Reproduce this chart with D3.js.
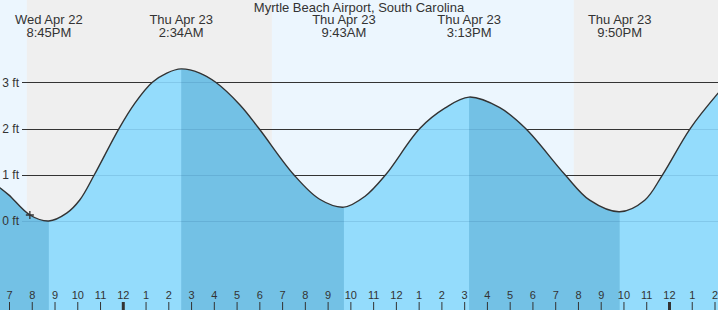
<!DOCTYPE html>
<html>
<head>
<meta charset="utf-8">
<script src="https://cdn.jsdelivr.net/npm/d3@7"></script>
<style>
  html, body { margin: 0; padding: 0; background: #fff; }
  svg { display: block; font-family: "Liberation Sans", Arial, sans-serif; }
</style>
</head>
<body>
<svg id="chart" width="718" height="310"></svg>
<script>
// ---- data ----
const title = "Myrtle Beach Airport, South Carolina";

const tideTimes = ["2026-04-22T18:36","2026-04-22T19:00","2026-04-22T19:55","2026-04-22T20:45","2026-04-22T21:32","2026-04-22T22:07","2026-04-22T22:45","2026-04-22T23:50","2026-04-23T00:32","2026-04-23T01:18","2026-04-23T01:56","2026-04-23T02:34","2026-04-23T03:23","2026-04-23T04:05","2026-04-23T05:09","2026-04-23T05:59","2026-04-23T07:31","2026-04-23T08:39","2026-04-23T09:43","2026-04-23T10:38","2026-04-23T11:33","2026-04-23T13:03","2026-04-23T14:09","2026-04-23T15:13","2026-04-23T16:34","2026-04-23T17:42","2026-04-23T19:26","2026-04-23T20:31","2026-04-23T21:50","2026-04-23T22:56","2026-04-23T23:43","2026-04-24T00:56","2026-04-24T02:10"];
const tideHeights = [0.72,0.56,0.13,0.0,0.17,0.46,1.0,2.0,2.55,3.0,3.2,3.29,3.2,3.0,2.51,2.0,1.0,0.47,0.30,0.53,1.0,2.0,2.44,2.68,2.45,2.0,1.0,0.45,0.20,0.45,1.0,2.0,2.77];

const eventTimes = ["2026-04-22T20:45","2026-04-23T02:34","2026-04-23T09:43","2026-04-23T15:13","2026-04-23T21:50"];
const eventDayLabels = ["Wed Apr 22","Thu Apr 23","Thu Apr 23","Thu Apr 23","Thu Apr 23"];
const eventTimeLabels = ["8:45PM","2:34AM","9:43AM","3:13PM","9:50PM"];

const fallStarts = ["2026-04-22T14:20","2026-04-23T02:34","2026-04-23T15:13"];
const fallEnds   = ["2026-04-22T20:45","2026-04-23T09:43","2026-04-23T21:50"];

const nightStarts = ["2026-04-22T19:47","2026-04-23T19:49"];
const nightEnds   = ["2026-04-23T06:33","2026-04-24T06:33"];

const nowTime = "2026-04-22T19:55";
const nowHeight = 0.13;

const feetTicks = [0,1,2,3];
const timeStart = "2026-04-22T19:00";
const timeEnd = "2026-04-24T02:00";

// ---- drawing ----
const W = 718, H = 310;
const parse = d3.timeParse("%Y-%m-%dT%H:%M");
const svg = d3.select("#chart");

const x = d3.scaleTime().domain([parse(timeStart), parse(timeEnd)]).range([9, 714.5]);
const y = d3.scaleLinear().domain([0, 3]).range([221, 82.3]);

const tide = tideTimes.map((t, i) => ({ t: parse(t), h: tideHeights[i] }));
const curve = d3.curveCatmullRom.alpha(0.5);

// background: day + night
svg.append("rect").attr("x", 0).attr("y", 0).attr("width", W).attr("height", H).attr("fill", "#ecf6fe");
svg.append("g").selectAll("rect").data(nightStarts).join("rect")
  .attr("x", (d) => x(parse(d)))
  .attr("y", 0)
  .attr("width", (d, i) => x(parse(nightEnds[i])) - x(parse(d)))
  .attr("height", H)
  .attr("fill", "#efefef");

// grid lines (under water)
svg.append("g").selectAll("line").data(feetTicks).join("line")
  .attr("x1", 22).attr("x2", W)
  .attr("y1", (d) => Math.round(y(d)) + 0.5).attr("y2", (d) => Math.round(y(d)) + 0.5)
  .attr("stroke", "#333").attr("stroke-width", 1);

// water
const area = d3.area().x((d) => x(d.t)).y0(H).y1((d) => y(d.h)).curve(curve);
const line = d3.line().x((d) => x(d.t)).y((d) => y(d.h)).curve(curve);

svg.append("clipPath").attr("id", "waterClip").append("path").attr("d", area(tide));
svg.append("path").attr("d", area(tide)).attr("fill", "#94dcfc");

const water = svg.append("g").attr("clip-path", "url(#waterClip)");
water.selectAll("rect").data(fallStarts).join("rect")
  .attr("x", (d) => x(parse(d)))
  .attr("y", 0)
  .attr("width", (d, i) => x(parse(fallEnds[i])) - x(parse(d)))
  .attr("height", H)
  .attr("fill", "#73c1e5");

// faint grid lines across the water
water.selectAll("line").data(feetTicks).join("line")
  .attr("x1", 22).attr("x2", W)
  .attr("y1", (d) => Math.round(y(d)) + 0.5).attr("y2", (d) => Math.round(y(d)) + 0.5)
  .attr("stroke", "rgba(0,60,110,0.12)").attr("stroke-width", 1);

// tide curve
svg.append("path").attr("d", line(tide))
  .attr("fill", "none").attr("stroke", "#333").attr("stroke-width", 1.4);

// y labels
svg.append("g").selectAll("text").data(feetTicks).join("text")
  .attr("x", 19).attr("y", (d) => y(d))
  .attr("dy", "0.35em")
  .attr("text-anchor", "end")
  .attr("font-size", 12)
  .attr("fill", "#333")
  .text((d) => d + " ft");

// title
svg.append("text").attr("x", 359).attr("y", 11.5)
  .attr("text-anchor", "middle").attr("font-size", 13).attr("fill", "#333")
  .text(title);

// event labels
const ev = svg.append("g").selectAll("g").data(eventTimes).join("g")
  .attr("transform", (d) => `translate(${x(parse(d))},0)`);
ev.append("text").attr("y", 24).attr("text-anchor", "middle").attr("font-size", 13).attr("fill", "#333")
  .text((d, i) => eventDayLabels[i]);
ev.append("text").attr("y", 36.5).attr("text-anchor", "middle").attr("font-size", 13).attr("fill", "#333")
  .text((d, i) => eventTimeLabels[i]);

// bottom hour axis
const axis = d3.axisTop(x)
  .ticks(d3.timeHour.every(1))
  .tickFormat(d3.timeFormat("%-I"))
  .tickSize(8)
  .tickPadding(3);
const ax = svg.append("g").attr("transform", `translate(0,${H})`).call(axis);
ax.select(".domain").remove();
ax.selectAll(".tick line")
  .attr("stroke", "#333")
  .attr("stroke-width", (d) => d.getHours() === 0 ? 3 : 1);
ax.selectAll(".tick text")
  .attr("font-size", 11)
  .attr("font-family", "\"Liberation Sans\", Arial, sans-serif")
  .attr("fill", "#333");

// current-time marker
const px = x(parse(nowTime)), py = y(nowHeight);
svg.append("path")
  .attr("d", `M${px - 4},${py}H${px + 4}M${px},${py - 4}V${py + 4}`)
  .attr("stroke", "#333").attr("stroke-width", 1.3).attr("fill", "none");
</script>
</body>
</html>
